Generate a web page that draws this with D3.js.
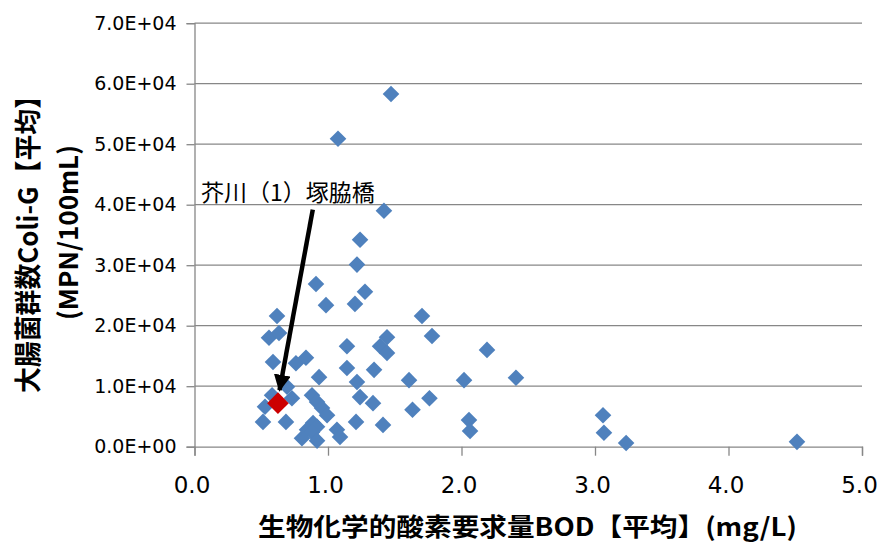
<!DOCTYPE html>
<html>
<head>
<meta charset="utf-8">
<script src="https://cdn.jsdelivr.net/npm/d3@7"></script>
<style>
  body { margin: 0; background: #fff; }
</style>
</head>
<body>
<svg id="chart"></svg>
<script>
// BOD (mg/L) vs coliform count (MPN/100mL), site averages
const bod = [1.472, 1.075, 1.419, 1.240, 1.217, 0.910, 1.277, 1.202, 0.985, 0.618,
  1.704, 0.558, 0.633, 1.779, 1.442, 1.390, 1.442, 1.142, 2.191, 0.588,
  0.760, 0.835, 1.142, 1.345, 0.933, 1.607, 2.019, 2.408, 1.217, 1.240,
  0.693, 0.581, 0.730, 0.528, 0.880, 0.918, 0.955, 0.993, 1.337, 1.760,
  1.633, 0.513, 0.685, 0.888, 0.843, 0.918, 0.880, 0.805, 0.918, 1.067,
  1.090, 1.210, 1.412, 2.056, 2.064, 3.060, 3.067, 3.233, 4.513];
const coli = [58300, 50900, 39000, 34200, 30100, 26900, 25600, 23600, 23400, 21600,
  21600, 18000, 18800, 18300, 18100, 16600, 15500, 16600, 16000, 14000,
  13800, 14700, 13000, 12700, 11500, 11000, 11000, 11400, 10700, 8200,
  9900, 8500, 8000, 6600, 8500, 7400, 6400, 5200, 7200, 8000,
  6100, 4100, 4100, 3900, 2800, 3300, 2400, 1400, 1000, 2800,
  1600, 4100, 3600, 4400, 2600, 5200, 2300, 600, 800];

// highlighted site
const hiName = "芥川（1）塚脇橋";
const hiBod = 0.625, hiColi = 7200;
// annotation label + arrow, in data units
const labelAt = [0.70, 42300];
const arrowFrom = [0.886, 39200];
const arrowTo = [0.637, 9350];

const xTicks = [0, 1, 2, 3, 4, 5];
const yTicks = [0, 10000, 20000, 30000, 40000, 50000, 60000, 70000];

const W = 877, H = 543;
const svg = d3.select("#chart").attr("width", W).attr("height", H);

const x = d3.scaleLinear().domain([0, 5]).range([194.5, 862]);
const y = d3.scaleLinear().domain([0, 70000]).range([446.7, 23.2]);

const gridCol = "#878787";

// horizontal gridlines
svg.append("g")
  .selectAll("line")
  .data(yTicks.slice(1))
  .enter().append("line")
  .attr("x1", x(0)).attr("x2", x(5))
  .attr("y1", d => y(d)).attr("y2", d => y(d))
  .attr("stroke", gridCol).attr("stroke-width", 1.3);

// y axis
const yAxis = svg.append("g")
  .attr("transform", `translate(${x(0)},0)`)
  .call(d3.axisLeft(y).tickValues(yTicks).tickSizeOuter(0).tickSize(8).tickPadding(10)
    .tickFormat(d => (d / 10000).toFixed(1) + "E+0" + (d ? 4 : 0)));
yAxis.select(".domain").attr("stroke", gridCol).attr("stroke-width", 1.3);
yAxis.selectAll(".tick line").attr("stroke", gridCol).attr("stroke-width", 1.3);
yAxis.selectAll("text")
  .attr("font-family", "DejaVu Sans").attr("font-size", 19).attr("fill", "#000");

// x axis
const xAxis = svg.append("g")
  .attr("transform", `translate(0,${y(0)})`)
  .call(d3.axisBottom(x).tickValues(xTicks).tickSizeOuter(0).tickSize(9).tickPadding(21)
    .tickFormat(d3.format(".1f")));
xAxis.select(".domain").attr("stroke", gridCol).attr("stroke-width", 1.3);
xAxis.selectAll(".tick line").attr("stroke", gridCol).attr("stroke-width", 1.3);
xAxis.selectAll("text")
  .attr("font-family", "DejaVu Sans").attr("font-size", 23).attr("fill", "#000")
  .attr("dx", -3);

// markers
const diamond = (s) => `M0,${-s}L${s},0L0,${s}L${-s},0Z`;
svg.append("g")
  .selectAll("path")
  .data(d3.range(bod.length))
  .enter().append("path")
  .attr("transform", i => `translate(${x(bod[i])},${y(coli[i])})`)
  .attr("d", diamond(8.3))
  .attr("fill", "#4F81BD");

svg.append("path")
  .attr("transform", `translate(${x(hiBod)},${y(hiColi)})`)
  .attr("d", diamond(10.8))
  .attr("fill", "#CC0000");

// annotation
svg.append("defs").append("marker")
  .attr("id", "ah")
  .attr("viewBox", "0 0 10 10")
  .attr("refX", 9).attr("refY", 5)
  .attr("markerUnits", "userSpaceOnUse")
  .attr("markerWidth", 17).attr("markerHeight", 17)
  .attr("orient", "auto")
  .append("path").attr("d", "M0,0L10,5L0,10Z").attr("fill", "#000");

svg.append("line")
  .attr("x1", x(arrowFrom[0])).attr("y1", y(arrowFrom[1]))
  .attr("x2", x(arrowTo[0])).attr("y2", y(arrowTo[1]))
  .attr("stroke", "#000").attr("stroke-width", 4.5)
  .attr("marker-end", "url(#ah)");

svg.append("text")
  .attr("x", x(labelAt[0])).attr("y", y(labelAt[1]))
  .attr("text-anchor", "middle").attr("dominant-baseline", "central")
  .attr("font-family", "Noto Sans CJK JP").attr("font-size", 23)
  .attr("fill", "#000")
  .text(hiName);

// axis titles
svg.append("text")
  .attr("x", 527.5).attr("y", 525)
  .attr("text-anchor", "middle").attr("dominant-baseline", "central")
  .attr("font-family", "Noto Sans CJK JP").attr("font-weight", 700).attr("font-size", 25)
  .attr("textLength", 539).attr("lengthAdjust", "spacingAndGlyphs")
  .text("生物化学的酸素要求量BOD【平均】(mg/L)");

svg.append("text")
  .attr("transform", "translate(26.5,238) rotate(-90)")
  .attr("text-anchor", "middle").attr("dominant-baseline", "central")
  .attr("font-family", "Noto Sans CJK JP").attr("font-weight", 700).attr("font-size", 27)
  .attr("textLength", 310).attr("lengthAdjust", "spacingAndGlyphs")
  .text("大腸菌群数Coli-G【平均】");

svg.append("text")
  .attr("transform", "translate(66,232.5) rotate(-90)")
  .attr("text-anchor", "middle").attr("dominant-baseline", "central")
  .attr("font-family", "Noto Sans CJK JP").attr("font-weight", 700).attr("font-size", 26)
  .attr("textLength", 175).attr("lengthAdjust", "spacingAndGlyphs")
  .text("(MPN/100mL)");
</script>
</body>
</html>
